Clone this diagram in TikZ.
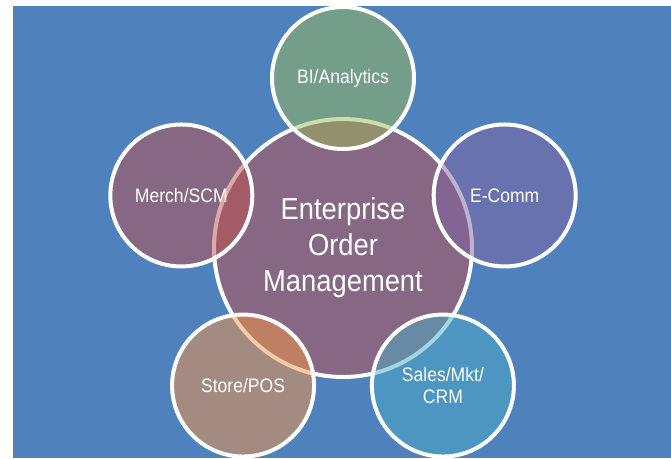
\documentclass[tikz,border=0pt]{standalone}
\usepackage{fontspec}
\setmainfont{Liberation Sans}[FakeStretch=0.9]
\definecolor{bgblue}{HTML}{4F81BD}
\definecolor{ored}{HTML}{C0504D}
\definecolor{ogreen}{HTML}{9BBB59}
\definecolor{opurple}{HTML}{8064A2}
\definecolor{oorange}{HTML}{F79646}
\definecolor{oaqua}{HTML}{4BACC6}

\begin{document}
\begin{tikzpicture}[x=0.02cm, y=0.02cm,
  bubble/.style={circle, draw=white, line width=0.08cm, fill opacity=0.5, text opacity=1,
    text=white, inner sep=0pt, align=center, minimum size=2.84cm,
    font=\fontsize{11.1}{12.3}\selectfont}]
\useasboundingbox (-343,-210) rectangle (328,248);
\fill[bgblue] (-330,-210) rectangle (328,242.5);
\node[bubble, fill=ored, minimum size=5.16cm, font=\fontsize{17.3}{20.5}\selectfont] (eom) at (0,0) {Enterprise\\Order\\Management};
\node[bubble, fill=ogreen] (bi) at (90:170) {BI/Analytics};
\node[bubble, fill=opurple] (ecomm) at (18:170) {E-Comm};
\node[bubble, fill=ored] (merch) at (162:170) {Merch/SCM};
\node[bubble, fill=oorange] (store) at (234:170) {Store/POS};
\node[bubble, fill=oaqua] (sales) at (306:170) {Sales/Mkt/\\CRM};
\end{tikzpicture}
\end{document}
